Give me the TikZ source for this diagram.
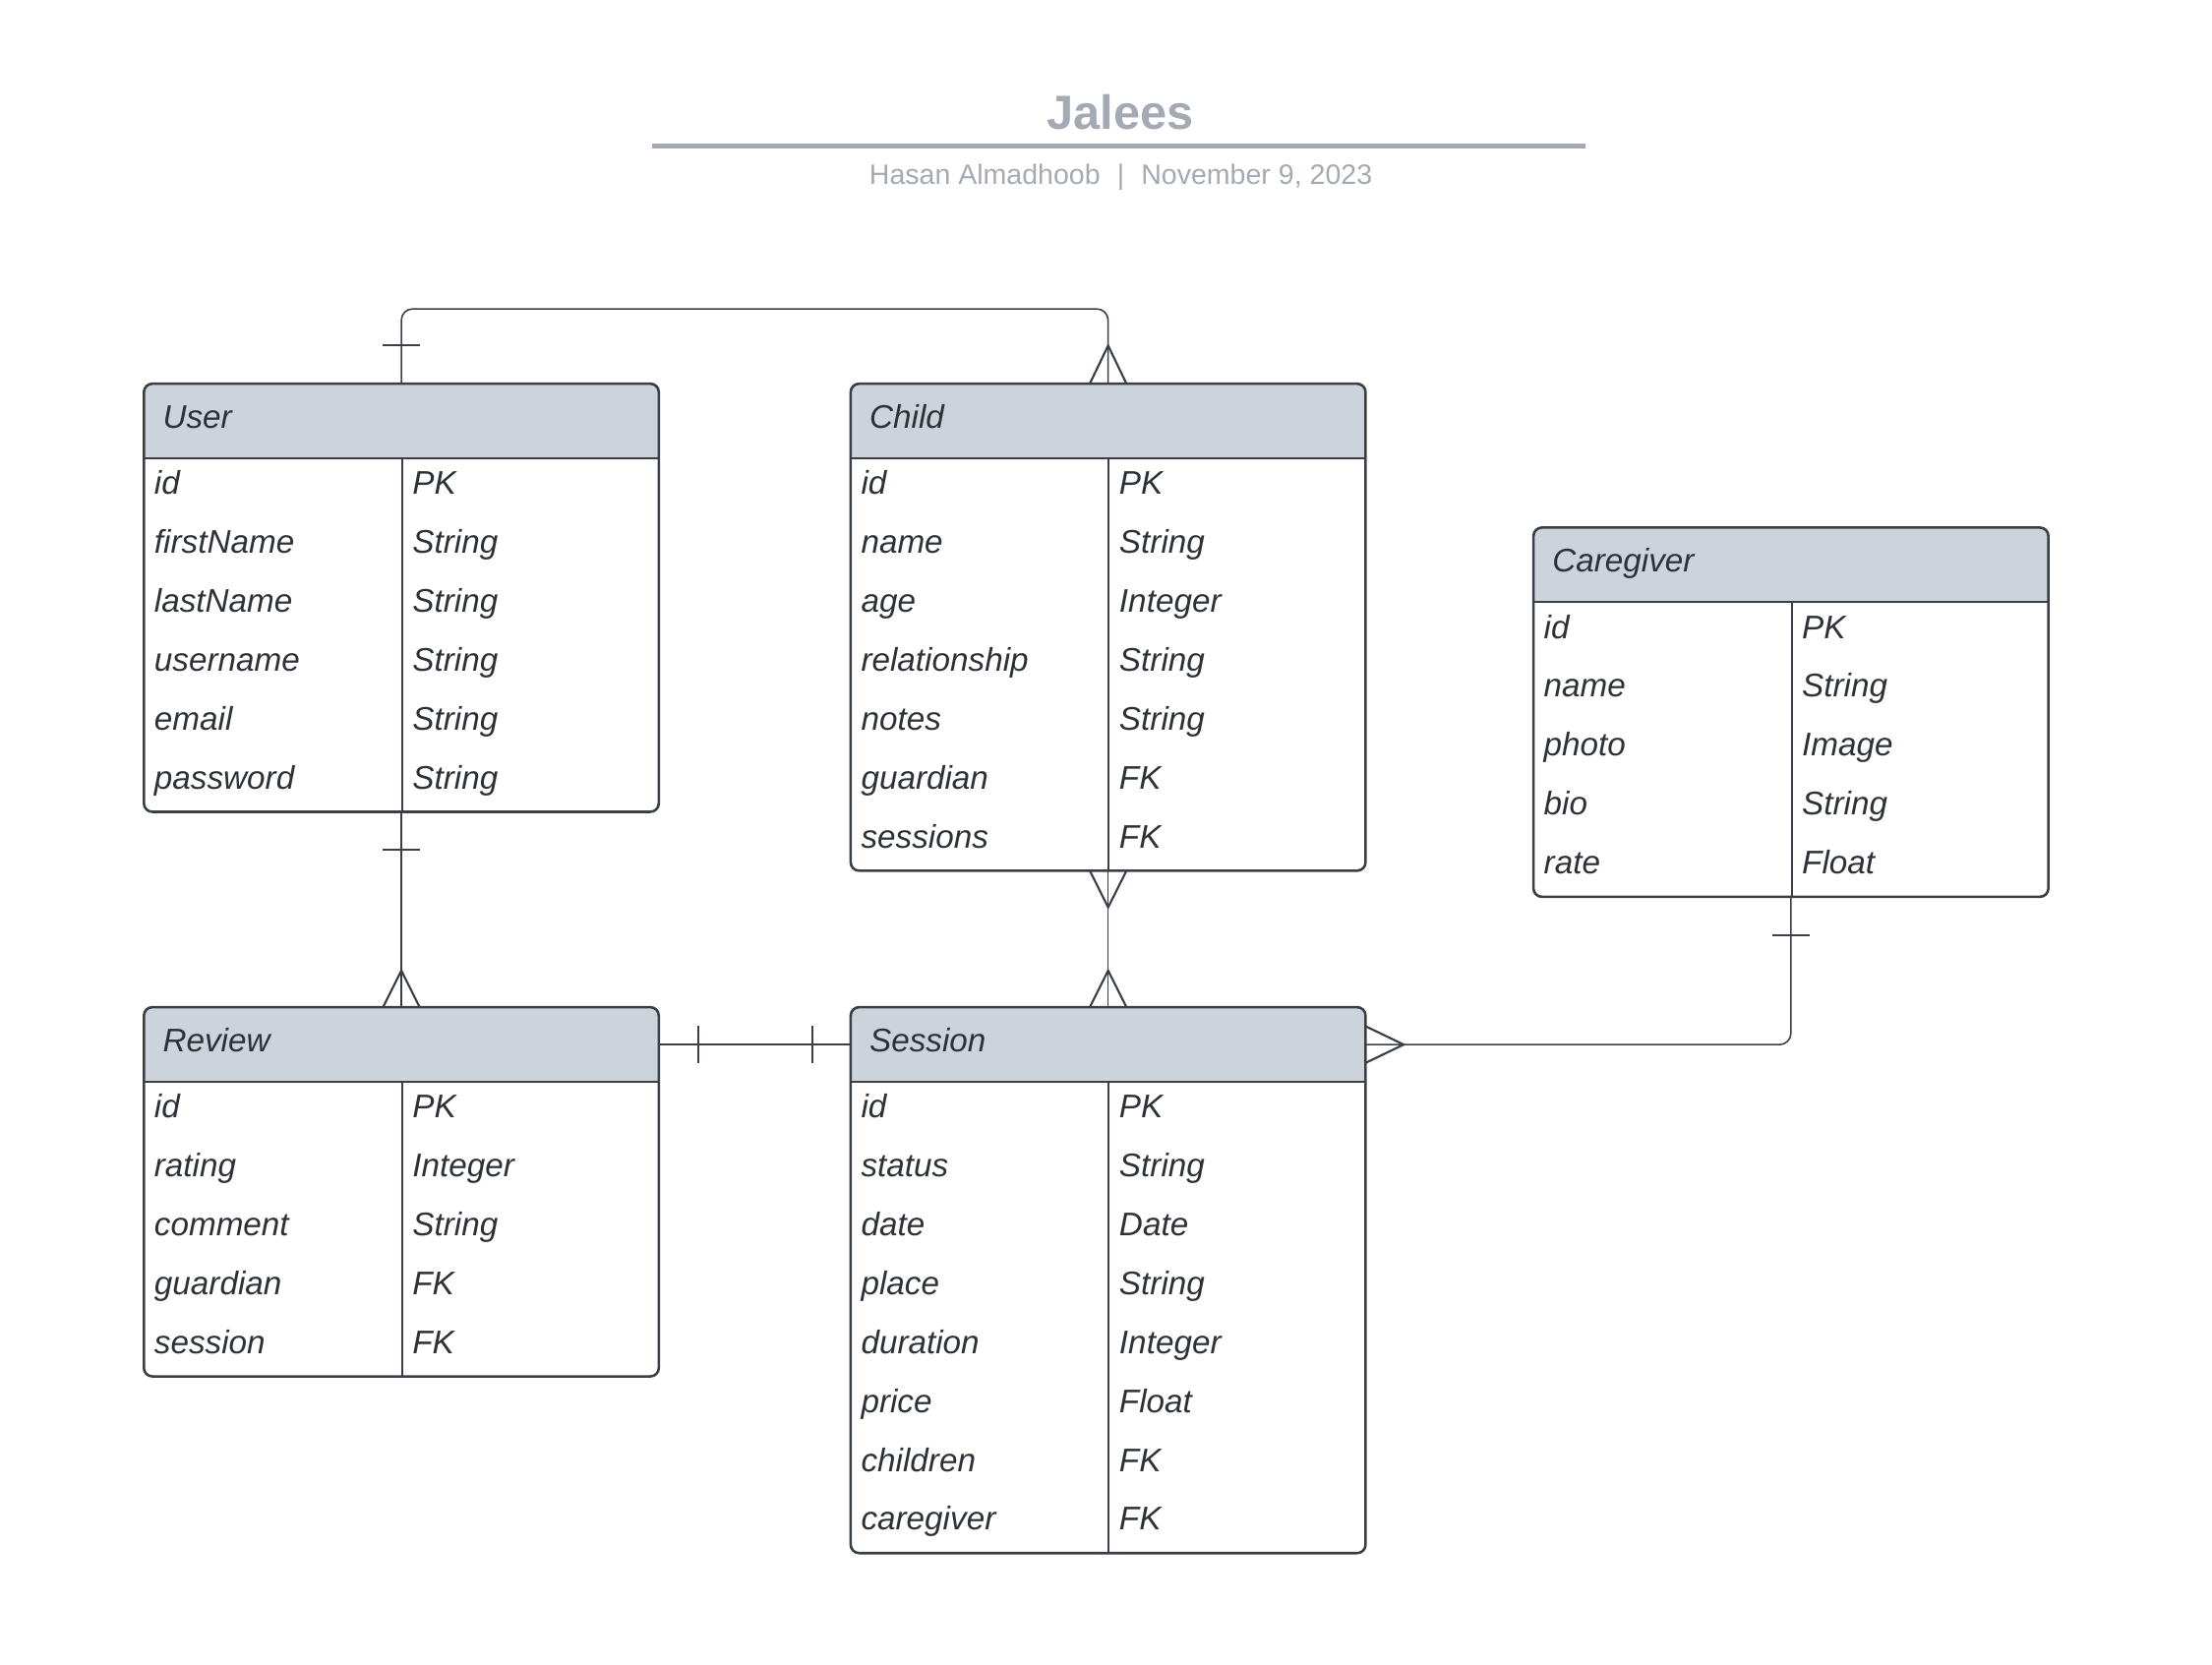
\documentclass[tikz,border=0pt]{standalone}
\usepackage{fontspec}
\setmainfont{Liberation Sans}
\usetikzlibrary{calc}
\definecolor{linec}{HTML}{3A3F47}
\definecolor{txtc}{HTML}{2E3238}
\definecolor{hdrc}{HTML}{CDD3DB}
\definecolor{ttlc}{HTML}{A4AAB3}
\tikzset{
  tablebox/.style={draw=linec, line width=0.9pt, rounded corners=3pt, inner sep=0pt, outer sep=0pt, minimum width=182.5pt, anchor=north west},
  headbox/.style={inner sep=0pt, outer sep=0pt, minimum width=182.5pt, minimum height=26.5pt, anchor=north west},
  celltext/.style={font=\fontsize{11.6}{14}\selectfont\itshape, text=txtc, inner sep=0pt, anchor=base west},
  divline/.style={draw=linec, line width=0.7pt},
  conn/.style={draw=linec, line width=0.55pt},
  markline/.style={draw=linec, line width=0.75pt},
}
\newcommand{\ertable}[6]{%
  \pgfmathsetmacro{\tabh}{53+41.75*#5}
  \begin{scope}
    \clip[rounded corners=3pt] (#2,#3) rectangle (#2+365,#3+\tabh);
    \fill[hdrc] (#2,#3) rectangle (#2+365,#3+53);
  \end{scope}
  \node[headbox] (#1h) at (#2,#3) {};
  \node[tablebox, minimum height=\tabh*0.5pt] (#1) at (#2,#3) {};
  \draw[divline] (#2,#3+53) -- (#2+365,#3+53);
  \draw[divline] (#2+183,#3+53) -- (#2+183,#3+\tabh);
  \node[celltext] (#1t) at (#2+13,#3+31.5) {#4};
  \foreach \a/\b [count=\i] in {#6} {
    \node[celltext] (#1a\i) at (#2+7,{#3+53+41.75*(\i-1)+25.5}) {\a};
    \node[celltext] (#1b\i) at (#2+190,{#3+53+41.75*(\i-1)+25.5}) {\b};
  }
}
\begin{document}
\begin{tikzpicture}[x=0.5pt,y=-0.5pt]
\useasboundingbox (0,0) rectangle (1568,1180);
% title
\node[font=\fontsize{17}{20}\selectfont\bfseries, text=ttlc, anchor=base, inner sep=0pt] (title) at (794,92) {Jalees};
\draw[ttlc, line width=1.5pt] (462,103.5) -- (1124,103.5);
\node[font=\fontsize{9.95}{12}\selectfont, text=ttlc, anchor=base, inner sep=0pt] (subtitle) at (794.5,131) {Hasan Almadhoob\hspace{0.6em}|\hspace{0.6em}November 9, 2023};
% tables
\ertable{user}{102}{272}{User}{6}{id/PK, firstName/String, lastName/String, username/String, email/String, password/String}
\ertable{child}{603}{272}{Child}{7}{id/PK, name/String, age/Integer, relationship/String, notes/String, guardian/FK, sessions/FK}
\ertable{caregiver}{1087}{374}{Caregiver}{5}{id/PK, name/String, photo/Image, bio/String, rate/Float}
\ertable{review}{102}{714}{Review}{5}{id/PK, rating/Integer, comment/String, guardian/FK, session/FK}
\ertable{session}{603}{714}{Session}{8}{id/PK, status/String, date/Date, place/String, duration/Integer, price/Float, children/FK, caregiver/FK}
% User - Child
\coordinate (ucbend) at (535,219);
\draw[conn, rounded corners=4pt] (user.north) |- (ucbend) -| (child.north);
\draw[markline] ($(user.north)+(-13,-27)$) -- ($(user.north)+(13,-27)$);
\draw[markline] ($(child.north)+(-13,0)$) -- ($(child.north)+(0,-27)$) -- ($(child.north)+(13,0)$);
% User - Review
\draw[conn] (user.south) -- (reviewh.north);
\draw[markline] ($(user.south)+(-13,27)$) -- ($(user.south)+(13,27)$);
\draw[markline] ($(reviewh.north)+(-13,0)$) -- ($(reviewh.north)+(0,-26)$) -- ($(reviewh.north)+(13,0)$);
% Child - Session
\draw[conn] (child.south) -- (sessionh.north);
\draw[markline] ($(child.south)+(-13,0)$) -- ($(child.south)+(0,26)$) -- ($(child.south)+(13,0)$);
\draw[markline] ($(sessionh.north)+(-13,0)$) -- ($(sessionh.north)+(0,-26)$) -- ($(sessionh.north)+(13,0)$);
% Review - Session
\draw[conn] (reviewh.east) -- (sessionh.west);
\draw[markline] ($(reviewh.east)+(28,-13)$) -- ($(reviewh.east)+(28,13)$);
\draw[markline] ($(sessionh.west)+(-27,-13)$) -- ($(sessionh.west)+(-27,13)$);
% Session - Caregiver
\draw[conn, rounded corners=4pt] (sessionh.east) -| (caregiver.south);
\draw[markline] ($(sessionh.east)+(0,-13)$) -- ($(sessionh.east)+(27,0)$) -- ($(sessionh.east)+(0,13)$);
\draw[markline] ($(caregiver.south)+(-13,27)$) -- ($(caregiver.south)+(13,27)$);
\end{tikzpicture}
\end{document}
